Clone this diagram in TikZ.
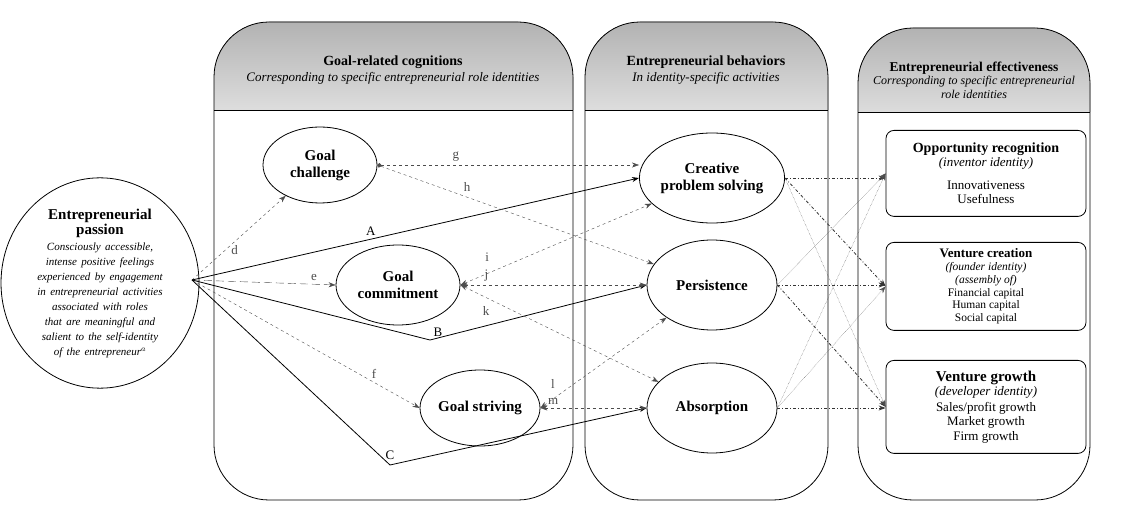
\documentclass[tikz,border=0pt]{standalone}
\usepackage{fontspec}
\setmainfont{Liberation Serif}
\usetikzlibrary{arrows.meta,shapes.geometric}
\begin{document}
\begin{tikzpicture}[x=1pt,y=-1pt,>={Stealth[length=7pt,width=5pt]},
    font=\fontsize{13}{15}\selectfont]
    \tikzstyle{construct}=[ellipse,draw,thick,inner sep=0pt,align=center,font=\fontsize{15}{17}\selectfont\bfseries]
    \tikzstyle{outcome}=[draw,thick,rounded corners=8pt,minimum width=200pt,align=center,anchor=north,font=\fontsize{13}{14.5}\selectfont]
    \tikzstyle{panel}=[draw,thick,rounded corners=55pt]
    \tikzstyle{header}=[top color=black!30,bottom color=black!2,rounded corners=55pt]
    \tikzstyle{link}=[dashed,black!70,->]
    \tikzstyle{direct}=[thick,->]
    \tikzstyle{effect}=[thick,dash dot,black!80,->]
    \tikzstyle{weak}=[thin,densely dotted,black!70,->]
    \tikzstyle{lbl}=[font=\fontsize{13}{14}\selectfont]
    \path[use as bounding box] (0,0) rectangle (1136,510);

    % Panels with shaded headers
    \foreach \xa/\xb/\ya/\yb in {214/573/22/110, 585/828/22/110, 858/1090/28/112}{
        \begin{scope}
            \clip (\xa,\ya) rectangle (\xb,\yb);
            \fill[header] (\xa,\ya) rectangle (\xb,\yb+60);
        \end{scope}
        \draw[panel] (\xa,\ya) rectangle (\xb,500);
        \draw[thick] (\xa,\yb) -- (\xb,\yb);
    }
    \node[align=center] (t1) at (393,70) {\textbf{\fontsize{14}{16}\selectfont Goal-related cognitions}\\[1pt] \textit{Corresponding to specific entrepreneurial role identities}};
    \node[align=center] (t2) at (706,70) {\textbf{\fontsize{14}{16}\selectfont Entrepreneurial behaviors}\\[1pt] \textit{In identity-specific activities}};
    \node[align=center,font=\fontsize{12}{13.5}\selectfont] (t3) at (974,80) {\textbf{\fontsize{13.5}{15}\selectfont Entrepreneurial effectiveness}\\ \textit{Corresponding to specific entrepreneurial}\\ \textit{role identities}};

    % Constructs
    \node[ellipse,draw,thick,minimum width=184pt,minimum height=176pt,align=center,
          text width=140pt,inner sep=0pt] (pas) at (100,283)
        {\textbf{\fontsize{15}{17}\selectfont Entrepreneurial\\ passion}\\[1pt]
         {\fontsize{11}{12.5}\selectfont\itshape Consciously accessible, intense positive feelings experienced by engagement in entrepreneurial activities associated with roles that are meaningful and salient to the self-identity of the entrepreneur$^a$}};
    \node[construct,minimum width=114pt,minimum height=76pt] (gch) at (320,165) {Goal\\challenge};
    \node[construct,minimum width=124pt,minimum height=80pt] (gco) at (398,285) {Goal\\commitment};
    \node[construct,minimum width=120pt,minimum height=76pt] (gst) at (480,408) {Goal striving};
    \node[construct,minimum width=130pt,minimum height=90pt] (cps) at (712,178) {Creative\\problem solving};
    \node[construct,minimum width=130pt,minimum height=90pt] (per) at (712,285) {Persistence};
    \node[construct,minimum width=130pt,minimum height=90pt] (abs) at (712,408) {Absorption};

    \node[outcome,minimum height=86pt] (opp) at (986,130)
        {\textbf{\fontsize{14}{16}\selectfont Opportunity recognition}\\ \textit{(inventor identity)}\\[8pt] Innovativeness\\ Usefulness};
    \node[outcome,minimum height=88pt,font=\fontsize{11.5}{12.8}\selectfont] (vcr) at (986,242)
        {\textbf{\fontsize{13}{14}\selectfont Venture creation}\\ \textit{(founder identity)}\\ \textit{(assembly of)}\\ Financial capital\\ Human capital\\ Social capital};
    \node[outcome,minimum height=93pt] (vgr) at (986,360)
        {\textbf{\fontsize{15}{17}\selectfont Venture growth}\\ \textit{(developer identity)}\\[1pt] Sales/profit growth\\ Market growth\\ Firm growth};

    % Passion to cognitions
    \coordinate (src) at (192,280);
    \draw[link] (src) -- (gch) node[lbl,pos=0.35,right=3pt] {d};
    \draw[link,dash pattern=on 8pt off 4pt] (src) -- (gco.west) node[lbl,pos=0.85,above] {e};
    \draw[link] (src) -- (gst.west) node[lbl,pos=0.8,above] {f};

    % Direct paths
    \coordinate (kB) at (430,340);
    \coordinate (kC) at (390,465);
    \draw[direct] (src) -- (cps.west) node[lbl,pos=0.4,above] {A};
    \draw[direct] (src) -- (kB) node[lbl,above right=0pt] {B} -- (per.west);
    \draw[direct] (src) -- (kC) node[lbl,above=2pt] {C} -- (abs.west);

    % Cognitions to behaviors
    \draw[link,{Circle[length=4pt]}->] (gch.east) -- (cps.west |- gch.east) node[lbl,pos=0.3,above] {g};
    \draw[link,{Circle[length=4pt]}->] (gch.east) -- (per) node[lbl,pos=0.3,above right=0pt] {h};
    \draw[link,<->] (gco.east) -- (cps) node[lbl,pos=0.14,above=9pt] {i};
    \draw[link,<->] (gco.east) -- (per.west) node[lbl,pos=0.14,above] {j};
    \draw[link,<->] (gco.east) -- (abs) node[lbl,pos=0.13,below=5pt] {k};
    \draw[link,<->] (gst.east) -- (per) node[lbl,pos=0.1,above=7pt] {l};
    \draw[link,<->] (gst.east) -- (abs.west) node[lbl,pos=0.12,above] {m};

    % Behaviors to effectiveness
    \draw[effect] (cps.east) -- (opp.west |- cps.east);
    \draw[effect] (cps.east) -- (vcr.west);
    \draw[effect] (per.east) -- (vcr.west |- per.east);
    \draw[effect] (per.east) -- (vgr.west);
    \draw[effect] (abs.east) -- (vgr.west |- abs.east);
    \draw[weak] (cps.east) -- (vgr.west);
    \draw[weak] (per.east) -- (opp.west);
    \draw[weak] (abs.east) -- (opp.west);
    \draw[weak] (abs.east) -- (vcr.west);
\end{tikzpicture}
\end{document}
